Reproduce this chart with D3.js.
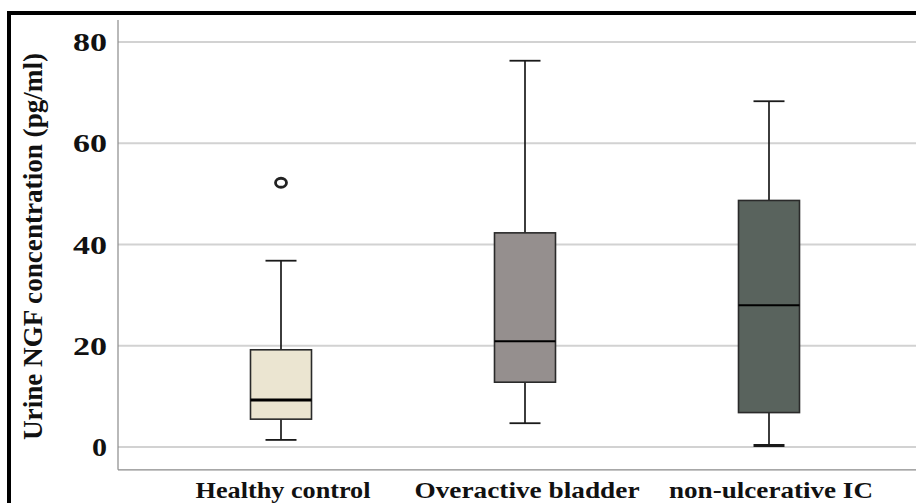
<!DOCTYPE html>
<html>
<head>
<meta charset="utf-8">
<script src="https://cdn.jsdelivr.net/npm/d3@7"></script>
<style>
  html, body { margin: 0; padding: 0; background: #fff; }
  svg { display: block; }
  text { font-family: "Liberation Serif", "Times New Roman", serif; font-weight: bold; fill: #111; }
</style>
</head>
<body>
<svg id="chart" width="916" height="503"></svg>
<script>
// ---- data ----
const categories = ["Healthy control", "Overactive bladder", "non-ulcerative IC"];
const whiskerLow  = [1.4, 4.7, 0.3];
const q1Values    = [5.5, 12.8, 6.8];
const medians     = [9.3, 20.9, 28.0];
const q3Values    = [19.2, 42.3, 48.7];
const whiskerHigh = [36.8, 76.3, 68.3];
const outliers    = [{ group: "Healthy control", value: 52.2 }];
const yTicks      = [0, 20, 40, 60, 80];
const yTitle      = "Urine NGF concentration (pg/ml)";
const fills       = ["#ebe5d1", "#958f8e", "#59635d"];

// ---- layout ----
const svg = d3.select("#chart");
const W = 916, H = 503;
const plotLeft = 118, plotRight = 916;
const boxW = 61, capW = 31;

const x = d3.scalePoint().domain(categories).range([281, 769]);
const y = d3.scaleLinear().domain([0, 80]).range([447, 42]);
const axisBottomY = y(-4.5);

// gridlines
svg.append("g").selectAll("line").data(yTicks).join("line")
  .attr("x1", plotLeft).attr("x2", plotRight)
  .attr("y1", d => y(d)).attr("y2", d => y(d))
  .attr("stroke", "#d2d2d2").attr("stroke-width", 2);

// axes lines
svg.append("line").attr("x1", plotLeft).attr("x2", plotLeft)
  .attr("y1", 20).attr("y2", axisBottomY)
  .attr("stroke", "#8a8a8a").attr("stroke-width", 1.2);
svg.append("line").attr("x1", plotLeft).attr("x2", plotRight)
  .attr("y1", axisBottomY).attr("y2", axisBottomY)
  .attr("stroke", "#8a8a8a").attr("stroke-width", 1.2);

// y tick labels
svg.append("g").selectAll("text").data(yTicks).join("text")
  .attr("x", 107).attr("y", d => y(d))
  .attr("dy", "0.35em")
  .attr("text-anchor", "end")
  .attr("font-size", 26)
  .attr("textLength", d => String(d).length === 1 ? 15 : 34)
  .attr("lengthAdjust", "spacingAndGlyphs")
  .text(d => d);

// y title
svg.append("text")
  .attr("transform", `translate(42,${(53 + 440) / 2}) rotate(-90)`)
  .attr("text-anchor", "middle")
  .attr("font-size", 28)
  .attr("textLength", 387)
  .attr("lengthAdjust", "spacingAndGlyphs")
  .text(yTitle);

// x labels
const xLabelWidths = [175, 225, 204];
svg.append("g").selectAll("text").data(categories).join("text")
  .attr("x", d => x(d) + 2).attr("y", 498)
  .attr("text-anchor", "middle")
  .attr("font-size", 24)
  .attr("textLength", (d, i) => xLabelWidths[i])
  .attr("lengthAdjust", "spacingAndGlyphs")
  .text(d => d);

// boxes
const stats = categories.map((c, i) => ({
  c, lo: whiskerLow[i], q1: q1Values[i], med: medians[i], q3: q3Values[i], hi: whiskerHigh[i], fill: fills[i], i
}));

const g = svg.append("g").selectAll("g").data(stats).join("g");
// whiskers
g.append("line").attr("x1", d => x(d.c)).attr("x2", d => x(d.c))
  .attr("y1", d => y(d.hi)).attr("y2", d => y(d.q3))
  .attr("stroke", "#1a1a1a").attr("stroke-width", 1.7);
g.append("line").attr("x1", d => x(d.c)).attr("x2", d => x(d.c))
  .attr("y1", d => y(d.q1)).attr("y2", d => y(d.lo))
  .attr("stroke", "#1a1a1a").attr("stroke-width", 1.7);
// caps
g.append("line").attr("x1", d => x(d.c) - capW / 2).attr("x2", d => x(d.c) + capW / 2)
  .attr("y1", d => y(d.hi)).attr("y2", d => y(d.hi))
  .attr("stroke", "#1a1a1a").attr("stroke-width", 1.8);
g.append("line").attr("x1", d => x(d.c) - capW / 2).attr("x2", d => x(d.c) + capW / 2)
  .attr("y1", d => y(d.lo)).attr("y2", d => y(d.lo))
  .attr("stroke", "#1a1a1a").attr("stroke-width", d => d.i === 2 ? 3 : 1.8);
// box
g.append("rect")
  .attr("x", d => x(d.c) - boxW / 2).attr("width", boxW)
  .attr("y", d => y(d.q3)).attr("height", d => y(d.q1) - y(d.q3))
  .attr("fill", d => d.fill).attr("stroke", "#2a2a2a").attr("stroke-width", 1.6);
// median
g.append("line").attr("x1", d => x(d.c) - boxW / 2).attr("x2", d => x(d.c) + boxW / 2)
  .attr("y1", d => y(d.med)).attr("y2", d => y(d.med))
  .attr("stroke", "#000").attr("stroke-width", d => d.i === 0 ? 3 : 2);

// outliers
svg.append("g").selectAll("ellipse").data(outliers).join("ellipse")
  .attr("cx", d => x(d.group)).attr("cy", d => y(d.value))
  .attr("rx", 5.5).attr("ry", 4.5)
  .attr("fill", "#fff").attr("stroke", "#222").attr("stroke-width", 2.8);

// frame
svg.append("line").attr("x1", 9).attr("x2", 9).attr("y1", 11).attr("y2", H)
  .attr("stroke", "#000").attr("stroke-width", 4);
svg.append("line").attr("x1", 7).attr("x2", W).attr("y1", 13).attr("y2", 13)
  .attr("stroke", "#000").attr("stroke-width", 4);
</script>
</body>
</html>
